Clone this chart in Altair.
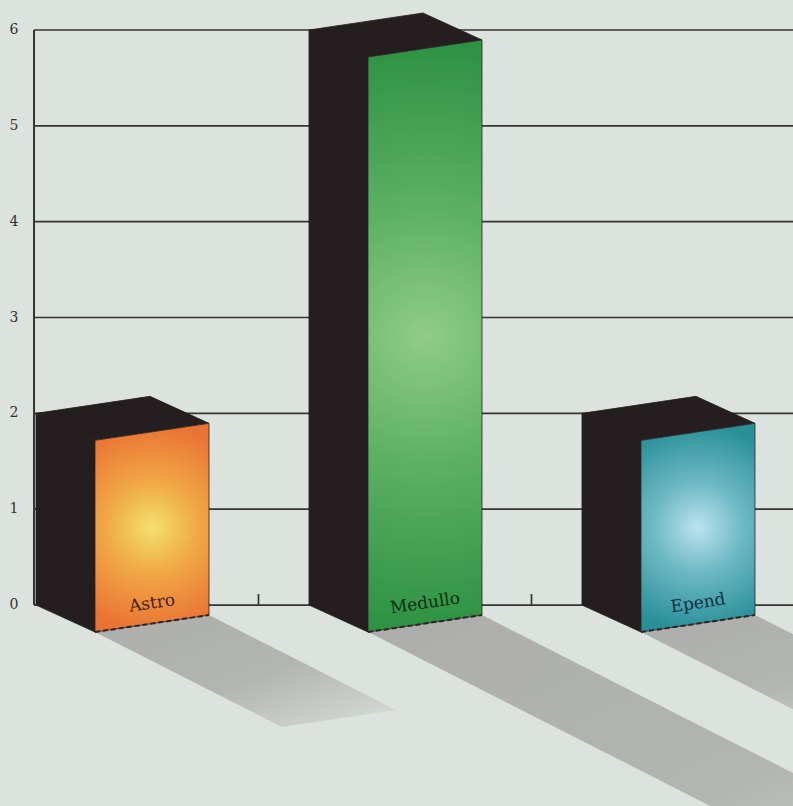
import altair as alt
import pandas as pd

# ---------------- data ----------------
categories = ["Astro", "Medullo", "Epend"]
values = [2, 6, 2]
y_ticks = [0, 1, 2, 3, 4, 5, 6]
y_tick_labels = ["0", "1", "2", "3", "4", "5", "6"]
band_ticks = [1, 2]

# ---------------- projection / layout constants (data units) ----------------
BAR_OFFSET = 0.185
W_U, W_V = 0.4176, 0.1774     # front-face width vector
D_U, D_V = 0.2161, -0.2817    # depth vector (back -> front)
S_U, S_V = 0.3425, -0.4957    # shadow displacement per unit of value
AXIS_U = 0.1777
LABEL_U = 0.1044
X_DOMAIN = [0.0531, 2.958]
Y_DOMAIN = [-2.097, 6.313]

BG = "#dce2dd"
DARK = "#241e20"
front_styles = {
    "Astro": ["#f3e06e", "#f0a846", "#ea7333"],
    "Medullo": ["#90cd87", "#5cb062", "#2e9243"],
    "Epend": ["#bbe3ee", "#6cb8c3", "#2a9098"],
}
label_colors = {"Astro": "#45200e", "Medullo": "#0f2c14", "Epend": "#0c3142"}


def slice_polygon(pts):
    xs_ = sorted(set(round(p[0], 9) for p in pts))
    rows = []
    n = len(pts)
    for x in xs_:
        yv = []
        for k in range(n):
            (x1, y1), (x2, y2) = pts[k], pts[(k + 1) % n]
            lo, hi = min(x1, x2), max(x1, x2)
            if lo - 1e-9 <= x <= hi + 1e-9:
                if abs(x2 - x1) < 1e-12:
                    yv += [y1, y2]
                else:
                    t = (x - x1) / (x2 - x1)
                    yv.append(y1 + t * (y2 - y1))
        rows.append((x, max(yv), min(yv)))
    return rows


face_rows = []
line_rows = []
label_rows = []
for i, (cat, v) in enumerate(zip(categories, values)):
    bu = i + BAR_OFFSET
    A0 = (bu, 0.0)
    A1 = (bu, v)
    F0 = (bu + D_U, D_V)
    F1 = (bu + D_U, v + D_V)
    F2 = (bu + D_U + W_U, v + D_V + W_V)
    F3 = (bu + D_U + W_U, D_V + W_V)
    T1 = (bu + W_U, v + W_V)
    polys = {
        "side": [A0, A1, F1, F0],
        "top": [A1, T1, F2, F1],
        "front": [F0, F1, F2, F3],
        "shadow": [F0, F3, (F3[0] + v * S_U, F3[1] + v * S_V),
                   (F0[0] + v * S_U, F0[1] + v * S_V)],
    }
    for face, pts in polys.items():
        for x, yt, yb in slice_polygon(pts):
            face_rows.append({"bar": cat, "face": face, "key": f"{cat}-{face}",
                              "u": x, "v": yt, "v2": yb})
    line_rows += [{"bar": cat, "u": F0[0], "v": F0[1]},
                  {"bar": cat, "u": F3[0], "v": F3[1]}]
    label_rows.append({"bar": cat, "u": bu + D_U + W_U / 2,
                       "v": D_V + W_V / 2 + 0.21})

faces = pd.DataFrame(face_rows)
edges = pd.DataFrame(line_rows)
labels = pd.DataFrame(label_rows)
grid = pd.DataFrame({"v": y_ticks, "u": AXIS_U, "u2": X_DOMAIN[1]})
ylab = pd.DataFrame({"v": y_ticks, "t": y_tick_labels, "u": LABEL_U})
xt = pd.DataFrame({"u": band_ticks, "v": 0, "v2": 0.115})
axis_df = pd.DataFrame({"u": [AXIS_U], "v": [0], "v2": [max(y_ticks)]})

xs = alt.Scale(domain=X_DOMAIN, nice=False, zero=False)
ys = alt.Scale(domain=Y_DOMAIN, nice=False, zero=False)


def X(f):
    return alt.X(f"{f}:Q", scale=xs, axis=None)


def Y(f):
    return alt.Y(f"{f}:Q", scale=ys, axis=None, stack=None)


def area_layer(data, flt, **mark):
    return (
        alt.Chart(data).transform_filter(flt)
        .mark_area(orient="vertical", interpolate="linear", **mark)
        .encode(x=X("u"), y=Y("v"), y2=alt.Y2("v2"), detail="key:N")
    )


layers = []

# shadows
shadow_grad = alt.Gradient(
    gradient="linear", x1=0, y1=0, x2=1, y2=1,
    stops=[alt.GradientStop(offset=0, color="#adaeab"),
           alt.GradientStop(offset=0.55, color="#b3b5b1"),
           alt.GradientStop(offset=1, color="#d9ded9")])
layers.append(area_layer(faces, alt.datum.face == "shadow",
                         color=shadow_grad, clip=True))

# grid lines and axes
layers.append(
    alt.Chart(grid).mark_rule(color="#353535", strokeWidth=1.7)
    .encode(x=X("u"), x2=alt.X2("u2"), y=Y("v"))
)
layers.append(
    alt.Chart(axis_df).mark_rule(color="#353535", strokeWidth=2)
    .encode(x=X("u"), y=Y("v"), y2=alt.Y2("v2"))
)
layers.append(
    alt.Chart(xt).mark_rule(color="#353535", strokeWidth=1.7)
    .encode(x=X("u"), y=Y("v"), y2=alt.Y2("v2"))
)
layers.append(
    alt.Chart(ylab).mark_text(font="DejaVu Serif", fontSize=14,
                              color="#333333", align="center", baseline="middle")
    .encode(x=X("u"), y=Y("v"), text="t:N")
)

# dark side and top faces
layers.append(area_layer(
    faces, (alt.datum.face == "side") | (alt.datum.face == "top"),
    color=DARK, stroke=DARK, strokeWidth=0.8))

# front faces with radial gradients
for cat in categories:
    c0, c1, c2 = front_styles[cat]
    grad = alt.Gradient(
        gradient="radial", x1=0.5, y1=0.5, r1=0, x2=0.5, y2=0.5, r2=0.55,
        stops=[alt.GradientStop(offset=0, color=c0),
               alt.GradientStop(offset=0.4, color=c1),
               alt.GradientStop(offset=0.9, color=c2),
               alt.GradientStop(offset=1, color=c2)])
    layers.append(area_layer(
        faces, (alt.datum.face == "front") & (alt.datum.bar == cat),
        color=grad, stroke="#2a2224", strokeWidth=0.8))
    layers.append(
        alt.Chart(labels).transform_filter(alt.datum.bar == cat)
        .mark_text(font="DejaVu Serif", fontSize=17, angle=351.5,
                   color=label_colors[cat], align="center", baseline="middle")
        .encode(x=X("u"), y=Y("v"), text="bar:N")
    )

# dashed bottom edges of front faces
layers.append(
    alt.Chart(edges).mark_line(color="#2e2426", strokeWidth=2, strokeDash=[5, 3])
    .encode(x=X("u"), y=Y("v"), detail="bar:N")
)

chart = (
    alt.layer(*layers)
    .properties(width=793, height=806, padding=0, autosize="none", background=BG)
    .configure_view(stroke=None, fill=BG)
)

chart.save("out.html", embed_options={"renderer": "svg", "actions": False})
